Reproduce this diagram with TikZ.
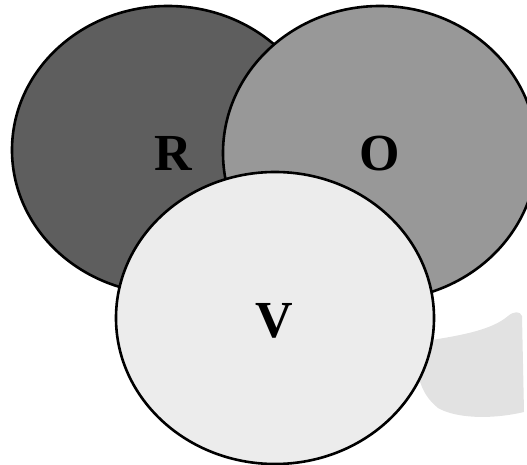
\documentclass[tikz,border=0pt]{standalone}
\usepackage{fontspec}
\setmainfont{Liberation Serif}[BoldFont={Liberation Serif Bold}]
\newfontfamily\lblfont{Liberation Serif Bold}
\usetikzlibrary{shapes.geometric}
\definecolor{rfill}{RGB}{94,94,94}
\definecolor{ofill}{RGB}{152,152,152}
\definecolor{vfill}{RGB}{236,236,236}
\definecolor{smudge}{RGB}{226,226,226}
\tikzset{
  setellipse/.style={ellipse, draw=black, line width=2.6pt, inner sep=0pt, outer sep=0pt},
  lbl/.style={inner sep=0pt, font=\lblfont\fontsize{52}{60}\selectfont}
}
\begin{document}
\begin{tikzpicture}[x=1pt,y=-1pt]
\useasboundingbox (0,0) rectangle (527,465);
% faint background mark
\fill[smudge] (418,342) .. controls (460,336) and (492,330) .. (508,316) .. controls (514,311) and (520,311) .. (522,316) -- (524,412) .. controls (490,420) and (455,418) .. (438,408) .. controls (428,400) and (422,390) .. (419,378) -- cycle;
\node[setellipse, fill=rfill, minimum width=312pt, minimum height=288pt] (R) at (168,150) {};
\node[setellipse, fill=ofill, minimum width=314pt, minimum height=294pt] (O) at (380,153) {};
\node[setellipse, fill=vfill, minimum width=318pt, minimum height=292pt] (V) at (275,318) {};
\node[lbl] (Rl) at (173,153) {R};
\node[lbl] (Ol) at (380,153.5) {O};
\node[lbl] (Vl) at (274.5,321) {V};
\end{tikzpicture}
\end{document}
